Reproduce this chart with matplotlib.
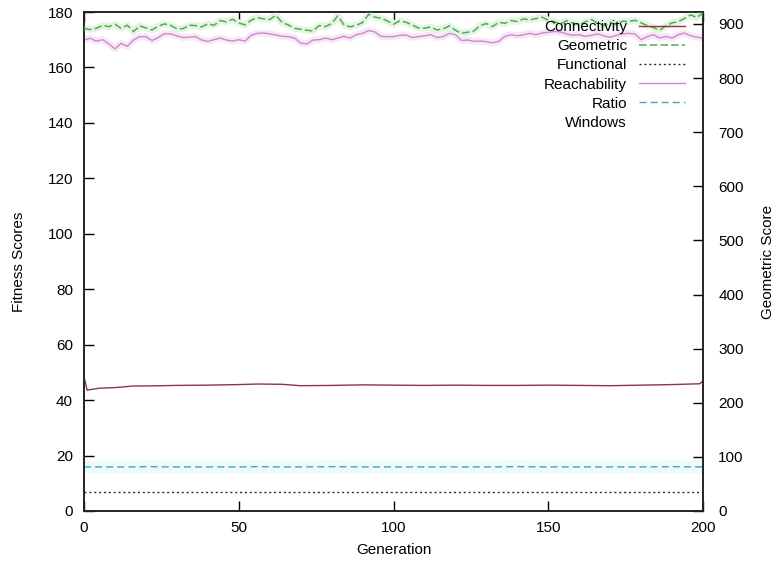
import numpy as np
import matplotlib
matplotlib.use("Agg")
import matplotlib.pyplot as plt
from matplotlib.lines import Line2D

plt.rcParams['font.family'] = ['Liberation Sans', 'DejaVu Sans']

# ---------------- data ----------------
gen_top = list(range(0, 201, 2))

geometric = [891.4, 889.5, 892.0, 897.0, 895.0, 899.4, 892.0, 897.5, 885.8, 896.3,
             892.6, 888.9, 895.7, 900.0, 897.5, 890.8, 891.4, 897.5, 897.0, 894.5,
             900.0, 897.5, 906.2, 903.7, 908.7, 901.9, 898.2, 906.8, 911.7, 909.3,
             908.0, 916.0, 902.5, 898.2, 892.0, 890.1, 888.3, 887.0, 897.0, 895.0,
             900.6, 914.8, 898.2, 894.5, 897.5, 902.5, 917.9, 912.4, 910.5, 905.6,
             899.4,
             905.6, 903.1, 898.2, 892.6, 892.0, 894.5, 888.9, 890.8, 896.3, 888.3,
             882.7, 884.6, 887.0, 897.0, 900.6, 895.0, 903.1, 901.2, 906.2, 904.3,
             909.3, 907.4, 909.9, 912.4, 906.8, 904.0, 900.0, 906.0, 902.0, 898.0,
             904.0, 908.0, 901.0, 897.0, 903.0, 899.0, 905.0, 904.3, 906.8, 901.9,
             897.0, 893.2, 888.3, 896.3, 901.9, 904.3, 909.9, 916.7, 911.7, 920.4]

reachability = [170.0, 170.5, 169.5, 170.0, 168.5, 166.7, 168.7, 167.6, 169.9, 171.1,
                171.1, 169.7, 170.8, 172.2, 172.1, 171.4, 170.8, 170.9, 171.1, 169.9,
                169.4, 170.0, 170.6, 169.9, 169.5, 170.0, 169.5, 171.6, 172.3, 172.4,
                172.1, 171.7, 171.2, 171.1, 170.6, 168.8, 168.5, 169.9, 170.0, 170.6,
                170.0, 170.6, 171.2, 170.6, 171.8, 172.3, 173.3, 172.8, 171.2, 171.1,
                171.1,
                171.6, 171.7, 170.8, 171.1, 171.4, 171.8, 170.8, 171.1, 172.3, 171.8,
                169.7, 169.9, 169.4, 169.5, 169.3, 168.9, 169.4, 171.2, 171.8, 171.4,
                171.8, 172.3, 171.8, 172.4, 172.7, 173.0, 172.8, 172.1, 171.6, 171.8,
                171.2, 171.6, 172.1, 171.4, 170.9, 171.6, 172.1, 172.3, 172.1, 170.0,
                171.1, 171.8, 170.6, 171.2, 170.6, 171.8, 172.4, 171.4, 170.9, 170.6]

gen_low = [0, 1, 5, 10, 16, 20, 30, 40, 50, 56, 64, 70, 80, 90, 100, 110, 120,
           130, 140, 150, 160, 170, 180, 190, 199, 200]
connectivity = [48.5, 43.6, 44.3, 44.5, 45.1, 45.1, 45.3, 45.4, 45.6, 45.8, 45.7,
                45.2, 45.3, 45.5, 45.4, 45.3, 45.4, 45.3, 45.3, 45.4, 45.3, 45.2,
                45.4, 45.6, 45.9, 47.0]
ratio = [15.9, 15.9, 15.9, 15.9, 15.9, 16.0, 15.9, 15.9, 15.9, 16.0, 15.9,
         15.9, 16.0, 15.9, 15.9, 15.9, 15.9, 15.9, 16.0, 15.9, 15.9, 15.9,
         15.9, 16.0, 15.9, 16.0]
functional = [6.9, 6.9, 6.9, 6.9, 6.9, 6.9, 6.9, 6.9, 6.9, 6.9, 6.9, 6.9, 6.9,
              6.9, 6.9, 6.9, 6.9, 6.9, 6.9, 6.9, 6.9, 6.9, 6.9, 6.9, 6.9, 6.9]

x_ticks = [0, 50, 100, 150, 200]
left_ticks = list(range(0, 181, 20))
right_ticks = list(range(0, 901, 100))

# ---------------- figure ----------------
fig = plt.figure(figsize=(7.77, 5.65), dpi=100)
ax = fig.add_axes([84/777, 54/565, 619/777, 499/565])
ax2 = ax.twinx()

c_conn = '#8e3444'
c_geo = '#4fae4f'
c_func = '#2a2a5a'
c_reach = '#c88cc8'
c_ratio = '#3aaabb'

# faint halos (scan bleed)
ax.plot(gen_low, ratio, color='#eef9fb', lw=9, zorder=1, solid_capstyle='butt')
ax.plot(gen_top, reachability, color='#f7e8f7', lw=5, zorder=1)
ax2.plot(gen_top, geometric, color='#e6f4e6', lw=5, zorder=1)

l_conn, = ax.plot(gen_low, connectivity, color=c_conn, lw=1.0, label='Connectivity', zorder=3)
l_func, = ax.plot(gen_low, functional, color=c_func, lw=1.0, ls=(0, (1.5, 2)), label='Functional', zorder=3)
l_reach, = ax.plot(gen_top, reachability, color=c_reach, lw=1.0, label='Reachability', zorder=3)
l_ratio, = ax.plot(gen_low, ratio, color=c_ratio, lw=1.0, ls=(0, (5, 3)), label='Ratio', zorder=3)
l_geo, = ax2.plot(gen_top, geometric, color=c_geo, lw=1.1, ls=(0, (5, 2)), label='Geometric', zorder=3)
l_win = Line2D([], [], color='none', label='Windows')

ax.set_xlim(0, 200)
ax.set_ylim(0, 180)
ax2.set_ylim(0, 922)

ax.set_xticks(x_ticks)
ax.set_yticks(left_ticks)
ax2.set_yticks(right_ticks)

ax.tick_params(axis='x', direction='in', length=7, width=1, top=True, pad=7, labelsize=11)
ax.tick_params(axis='y', direction='in', length=7, width=1, right=False, pad=8, labelsize=11)
ax2.tick_params(axis='y', direction='in', length=7, width=1, pad=11, labelsize=11)

for a in (ax, ax2):
    for s in a.spines.values():
        s.set_linewidth(1.2)
        s.set_color('#222222')

ax.set_xlabel('Generation', fontsize=11)
ax.set_ylabel('Fitness Scores', fontsize=11)
ax2.set_ylabel('Geometric Score', fontsize=11)
ax.xaxis.set_label_coords(0.5, -0.064)
ax.yaxis.set_label_coords(-0.093, 0.5)
ax2.yaxis.set_label_coords(1.094, 0.5)

handles = [l_conn, l_geo, l_func, l_reach, l_ratio, l_win]
leg = ax2.legend(handles=handles, loc='upper right', bbox_to_anchor=(0.971, 0.984),
                 frameon=False, markerfirst=False, fontsize=11, handlelength=3.0,
                 handletextpad=0.8, labelspacing=0.34, borderpad=0, borderaxespad=0)
for vp in leg._legend_handle_box.get_children():
    vp.align = 'right'

fig.savefig('out.png', dpi=100)
